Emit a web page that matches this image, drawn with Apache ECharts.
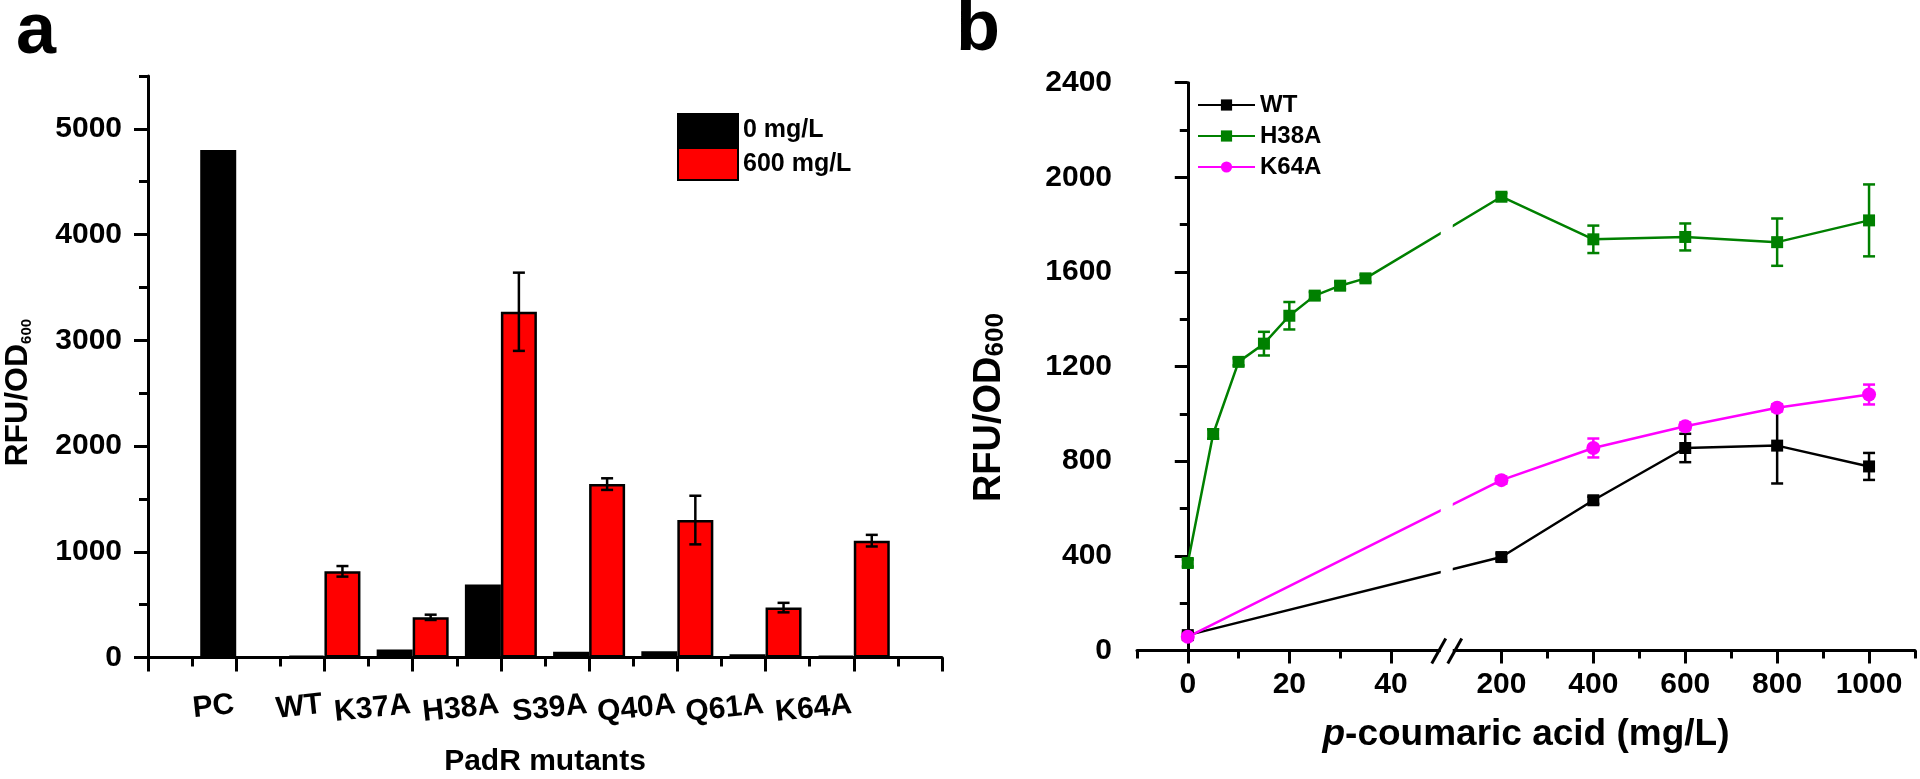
<!DOCTYPE html>
<html><head><meta charset="utf-8">
<script src="https://cdn.jsdelivr.net/npm/echarts@6/dist/echarts.min.js"></script>
<style>html,body{margin:0;padding:0;background:#fff}#c{width:1920px;height:779px}</style>
</head><body><div id="c"></div>
<script>
// ---------- Panel a data ----------
const mutants = ['PC', 'WT', 'K37A', 'H38A', 'S39A', 'Q40A', 'Q61A', 'K64A'];
const val0 = [4800, 15, 75, 690, 55, 60, 30, 15];
const val600 = [null, 815, 380, 3270, 1640, 1300, 472, 1105];
const err600 = [null, 50, 25, 370, 55, 230, 45, 55];
const yTicksA = [0, 1000, 2000, 3000, 4000, 5000];
const yMinorA = [500, 1500, 2500, 3500, 4500, 5500];

// ---------- Panel b data ----------
const conc = [0, 200, 400, 600, 800, 1000];
const concH38A = [0, 5, 10, 15, 20, 25, 30, 35, 200, 400, 600, 800, 1000];
const wt = [65, 395, 635, 856, 866, 778];
const wtErr = [10, 15, 15, 60, 160, 57];
const h38a = [370, 915, 1220, 1297, 1415, 1500, 1542, 1573, 1918, 1738, 1748, 1726, 1818];
const h38aErr = [15, 20, 15, 50, 58, 15, 15, 15, 15, 58, 57, 100, 152];
const k64a = [58, 720, 856, 948, 1026, 1082];
const k64aErr = [10, 15, 40, 15, 15, 42];
const xTicksB = [0, 20, 40, 200, 400, 600, 800, 1000];
const xMinorB = [-10, 10, 30, 300, 500, 700, 900, 1100];
const yTicksB = [0, 400, 800, 1200, 1600, 2000, 2400];
const yMinorB = [200, 600, 1000, 1400, 1800, 2200];

// broken x axis of panel b: below BRK_LO linear, above BRK_HI compressed
const BRK_LO = 51, BRK_HI = 81, SEG2_SCALE = 1 / 11.05;
function pos(x) { return x <= BRK_LO ? x : BRK_LO + (x - BRK_HI) * SEG2_SCALE; }
function realOf(p) { return p <= BRK_LO + 1e-9 ? p : BRK_HI + (p - BRK_LO) / SEG2_SCALE; }

const FONT = 'Liberation Sans';
const BAR_W = 36;
const GREEN = '#008000', MAGENTA = '#ff00ff';

const catsA = [''].concat(mutants, ['']);
const bar0 = [null].concat(val0, [null]);
const bar600 = [null].concat(val600, [null]);
const errDataA = [];
val600.forEach((v, i) => { if (v != null) errDataA.push([i + 1, v, err600[i]]); });

function errGroup(x, yTop, yBot, color, half) {
  const st = { stroke: color, lineWidth: 2.5 };
  return { type: 'group', children: [
    { type: 'line', shape: { x1: x, y1: yTop, x2: x, y2: yBot }, style: st },
    { type: 'line', shape: { x1: x - half, y1: yTop, x2: x + half, y2: yTop }, style: st },
    { type: 'line', shape: { x1: x - half, y1: yBot, x2: x + half, y2: yBot }, style: st }
  ]};
}
function errSeriesB(xs, ys, es, color) {
  return {
    type: 'custom', xAxisIndex: 2, yAxisIndex: 2, z: 3,
    data: xs.map((x, i) => [pos(x), ys[i], es[i]]),
    renderItem: function (params, api) {
      const x = api.value(0), y = api.value(1), e = api.value(2);
      const t = api.coord([x, y + e]), b = api.coord([x, y - e]);
      return errGroup(t[0], t[1], b[1], color, 6);
    },
    silent: true
  };
}
function lineSeries(name, xs, ys, color, symbol, size) {
  return {
    name: name, type: 'line', xAxisIndex: 2, yAxisIndex: 2, z: 4,
    data: xs.map((x, i) => [pos(x), ys[i]]),
    symbol: symbol, symbolSize: size, showSymbol: true,
    lineStyle: { color: color, width: 2.5 },
    itemStyle: { color: color, borderWidth: 0 }
  };
}

const axisLine = { show: true, lineStyle: { color: '#000', width: 3 } };
const tickLbl = { fontSize: 30, fontWeight: 'bold', color: '#000', fontFamily: FONT };
const plain = v => String(v);

const chart = echarts.init(document.getElementById('c'), null, { renderer: 'canvas' });
chart.setOption({
  animation: false,
  backgroundColor: '#fff',
  textStyle: { fontFamily: FONT },
  title: [
    { text: 'a', left: 16, top: -3, padding: 0, textStyle: { fontSize: 72, fontWeight: 'bold', color: '#000', fontFamily: FONT } },
    { text: 'b', left: 956, top: -6, padding: 0, textStyle: { fontSize: 72, fontWeight: 'bold', color: '#000', fontFamily: FONT } }
  ],
  legend: [
    { data: ['0 mg/L', '600 mg/L'], orient: 'vertical', left: 677, top: 113, padding: 0,
      itemWidth: 60, itemHeight: 32, itemGap: 0, icon: 'rect',
      textStyle: { fontSize: 25, fontWeight: 'bold', color: '#000', fontFamily: FONT, lineHeight: 28 } },
    { data: ['WT', 'H38A', 'K64A'], orient: 'vertical', left: 1197, top: 93, padding: 0,
      itemWidth: 57, itemHeight: 14, itemGap: 7,
      textStyle: { fontSize: 24, fontWeight: 'bold', color: '#000', fontFamily: FONT, lineHeight: 24 } }
  ],
  grid: [
    { left: 148, right: 978, top: 76, bottom: 121.5, outerBoundsMode: 'none' },
    { left: 1137, right: 5, top: 82.7, bottom: 128.5, outerBoundsMode: 'none' }
  ],
  xAxis: [
    { type: 'category', gridIndex: 0, data: catsA, boundaryGap: false, position: 'bottom',
      axisLine: axisLine,
      axisTick: { show: true, interval: 0, length: 14, lineStyle: { color: '#000', width: 3 } },
      axisLabel: Object.assign({}, tickLbl, { interval: 0, rotate: 6, margin: 47, fontSize: 30, padding: [0, 2, 0, 0] }),
      name: 'PadR mutants', nameLocation: 'middle', nameGap: 89,
      nameTextStyle: { fontSize: 30, fontWeight: 'bold', color: '#000', fontFamily: FONT },
      splitLine: { show: false } },
    { type: 'value', gridIndex: 0, min: 0, max: catsA.length - 1, position: 'bottom',
      axisLine: { show: false },
      axisTick: { show: true, length: 9, customValues: mutants.concat(['']).map((c, i) => i + 0.5), lineStyle: { color: '#000', width: 3 } },
      axisLabel: { show: false }, splitLine: { show: false } },
    { type: 'value', gridIndex: 1, min: pos(-10), max: pos(1100), position: 'bottom',
      axisLine: axisLine,
      axisTick: { show: true, length: 13, customValues: xTicksB.map(pos), lineStyle: { color: '#000', width: 3 } },
      axisLabel: Object.assign({}, tickLbl, { margin: 19, customValues: xTicksB.map(pos),
        formatter: v => String(Math.round(realOf(v))) }),
      name: '{i|p}-coumaric acid (mg/L)', nameLocation: 'middle', nameGap: 66,
      nameTextStyle: { fontSize: 37, fontWeight: 'bold', color: '#000', fontFamily: FONT,
        rich: { i: { fontSize: 37, fontWeight: 'bold', fontStyle: 'italic', color: '#000', fontFamily: FONT } } },
      splitLine: { show: false } },
    { type: 'value', gridIndex: 1, min: pos(-10), max: pos(1100), position: 'bottom',
      axisLine: { show: false },
      axisTick: { show: true, length: 8, customValues: xMinorB.map(pos), lineStyle: { color: '#000', width: 3 } },
      axisLabel: { show: false }, splitLine: { show: false } }
  ],
  yAxis: [
    { type: 'value', gridIndex: 0, min: 0, max: 5500, position: 'left',
      axisLine: axisLine,
      axisTick: { show: true, length: 14, customValues: yTicksA, lineStyle: { color: '#000', width: 3 } },
      axisLabel: Object.assign({}, tickLbl, { margin: 26, customValues: yTicksA, formatter: plain }),
      name: '{m|RFU/OD}{s|600}', nameLocation: 'middle', nameGap: 114,
      nameTextStyle: { padding: [0, 52, 0, 0],
        rich: { m: { fontSize: 32, fontWeight: 'bold', color: '#000', fontFamily: FONT },
                s: { fontSize: 15, fontWeight: 'bold', color: '#000', fontFamily: FONT, verticalAlign: 'bottom' } } },
      splitLine: { show: false } },
    { type: 'value', gridIndex: 0, min: 0, max: 5500, position: 'left',
      axisLine: { show: false },
      axisTick: { show: true, length: 9, customValues: yMinorA, lineStyle: { color: '#000', width: 3 } },
      axisLabel: { show: false }, splitLine: { show: false } },
    { type: 'value', gridIndex: 1, min: 0, max: 2400, position: 'left',
      axisLine: axisLine,
      axisTick: { show: true, length: 13, customValues: yTicksB, lineStyle: { color: '#000', width: 3 } },
      axisLabel: Object.assign({}, tickLbl, { margin: 25, customValues: yTicksB, formatter: plain }),
      name: '{m|RFU/OD}{s|600}', nameLocation: 'middle', nameGap: 128,
      nameTextStyle: { padding: [0, 82, 0, 0],
        rich: { m: { fontSize: 38, fontWeight: 'bold', color: '#000', fontFamily: FONT },
                s: { fontSize: 26, fontWeight: 'bold', color: '#000', fontFamily: FONT, verticalAlign: 'bottom' } } },
      splitLine: { show: false } },
    { type: 'value', gridIndex: 1, min: 0, max: 2400, position: 'left',
      axisLine: { show: false },
      axisTick: { show: true, length: 8, customValues: yMinorB, lineStyle: { color: '#000', width: 3 } },
      axisLabel: { show: false }, splitLine: { show: false } }
  ],
  series: [
    { name: '0 mg/L', type: 'bar', xAxisIndex: 0, yAxisIndex: 0, data: bar0,
      barWidth: BAR_W, barGap: '0%',
      itemStyle: { color: '#000', borderColor: '#000', borderWidth: 2.5 } },
    { name: '600 mg/L', type: 'bar', xAxisIndex: 0, yAxisIndex: 0, data: bar600,
      barWidth: BAR_W, barGap: '0%',
      itemStyle: { color: '#ff0000', borderColor: '#000', borderWidth: 2.5 } },
    { type: 'custom', xAxisIndex: 0, yAxisIndex: 0, z: 5, data: errDataA, silent: true,
      renderItem: function (params, api) {
        const i = api.value(0), v = api.value(1), e = api.value(2);
        const t = api.coord([i, v + e]), b = api.coord([i, v - e]);
        const x = t[0] + BAR_W / 2;
        return errGroup(x, t[1], b[1], '#000', 6);
      } },
    errSeriesB(conc, wt, wtErr, '#000'),
    errSeriesB(concH38A, h38a, h38aErr, GREEN),
    errSeriesB(conc, k64a, k64aErr, MAGENTA),
    lineSeries('WT', conc, wt, '#000', 'rect', 12),
    lineSeries('H38A', concH38A, h38a, GREEN, 'rect', 12),
    lineSeries('K64A', conc, k64a, MAGENTA, 'circle', 14)
  ]
});

// break marks on panel b x axis
(function () {
  const bx = chart.convertToPixel({ xAxisIndex: 2 }, BRK_LO);
  const yTop = chart.convertToPixel({ yAxisIndex: 2 }, 2400);
  const yBot = chart.convertToPixel({ yAxisIndex: 2 }, 0);
  chart.setOption({ graphic: [
    { type: 'rect', shape: { x: bx - 6, y: yTop, width: 12, height: yBot - yTop + 3 }, style: { fill: '#fff' }, z: 100 },
    { type: 'line', shape: { x1: bx - 15, y1: yBot + 13, x2: bx - 1, y2: yBot - 12 }, style: { stroke: '#000', lineWidth: 3 }, z: 101 },
    { type: 'line', shape: { x1: bx + 1, y1: yBot + 13, x2: bx + 15, y2: yBot - 12 }, style: { stroke: '#000', lineWidth: 3 }, z: 101 }
  ]});
})();
</script>
</body></html>
